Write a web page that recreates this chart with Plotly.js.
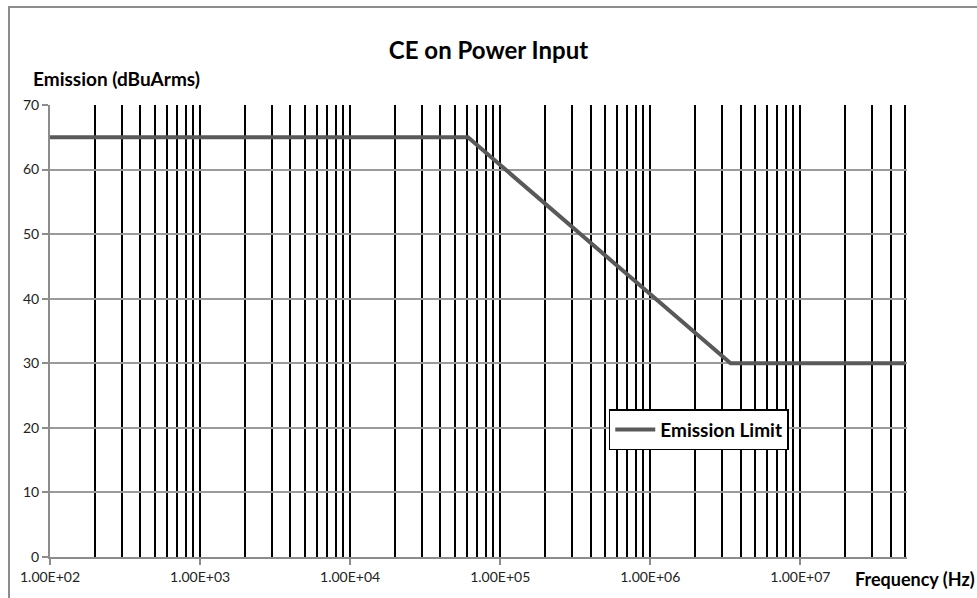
<!DOCTYPE html>
<html>
<head>
<meta charset="utf-8">
<script src="https://cdn.plot.ly/plotly-3.0.1.min.js"></script>
<style>
body { margin: 0; background: #fff; }
#frame { position: absolute; left: 8px; top: 6px; width: 969px; height: 592px;
         border-left: 2px solid #8c8c8c; border-top: 2px solid #8c8c8c; pointer-events: none; }
#chart { position: absolute; left: 0; top: 0; width: 977px; height: 598px; }
</style>
</head>
<body>
<div id="chart"></div>
<div id="frame"></div>
<script>
// breakpoints of the limit line
var freq = [100, 61000, 3430000, 50000000];
var limit = [65, 65, 30, 30];

var decadeVals = [1e2, 1e3, 1e4, 1e5, 1e6, 1e7];
var decadeText = ["1.00E+02", "1.00E+03", "1.00E+04", "1.00E+05", "1.00E+06", "1.00E+07"];
var yVals = [0, 10, 20, 30, 40, 50, 60, 70];

// vertical grid at every 1..9 x decade
var gridVals = [];
for (var d = 2; d <= 7; d++) {
    for (var m = 1; m <= 9; m++) {
        var v = m * Math.pow(10, d);
        if (v > 100 && v <= 5e7) gridVals.push(v);
    }
}

var fontFam = 'Lato, "Open Sans", sans-serif';

var trace = {
    x: freq,
    y: limit,
    mode: 'lines',
    name: '<b>Emission Limit</b>',
    line: { color: '#595959', width: 4 }
};

var layout = {
    width: 977,
    height: 598,
    margin: { l: 50, r: 70, t: 105, b: 41 },
    paper_bgcolor: '#fff',
    plot_bgcolor: '#fff',
    font: { family: fontFam, size: 14, color: '#222' },
    title: {
        text: '<b>CE on Power Input</b>',
        font: { family: fontFam, size: 24, color: '#000' },
        x: 0.5, xanchor: 'center', y: 0.915, yanchor: 'middle'
    },
    showlegend: true,
    legend: {
        x: 0.652, y: 0.327, xanchor: 'left', yanchor: 'top',
        bgcolor: '#fff', bordercolor: '#000', borderwidth: 1.5,
        font: { family: fontFam, size: 19, color: '#000' },
        itemwidth: 40,
        tracegroupgap: 0
    },
    xaxis: {
        type: 'log',
        range: [2, Math.log10(5e7) + 0.012],
        tickvals: decadeVals,
        ticktext: decadeText,
        ticks: 'outside', ticklen: 6, tickcolor: '#8c8c8c', tickwidth: 2,
        showgrid: true, gridcolor: '#000', gridwidth: 2,
        minor: { tickmode: 'array', tickvals: gridVals, showgrid: true, gridcolor: '#000', gridwidth: 2, ticks: '' },
        showline: true, linecolor: '#8c8c8c', linewidth: 2,
        zeroline: false,
        tickfont: { family: fontFam, size: 14, color: '#222' }
    },
    yaxis: {
        range: [0, 70],
        tickvals: yVals,
        ticks: 'outside', ticklen: 6, tickcolor: '#8c8c8c', tickwidth: 2,
        showgrid: true, gridcolor: '#9a9a9a', gridwidth: 2,
        showline: true, linecolor: '#8c8c8c', linewidth: 2,
        zeroline: false,
        tickfont: { family: fontFam, size: 14, color: '#222' }
    },
    annotations: [
        {
            text: '<b>Emission (dBuArms)</b>', xref: 'paper', yref: 'paper',
            x: -0.022, y: 1.058, xanchor: 'left', yanchor: 'middle', showarrow: false,
            font: { family: fontFam, size: 19, color: '#000' }
        },
        {
            text: '<b>Frequency (Hz)</b>', xref: 'paper', yref: 'paper',
            x: 0.937, y: -0.048, xanchor: 'left', yanchor: 'middle', showarrow: false,
            font: { family: fontFam, size: 18, color: '#000' }
        }
    ]
};

Plotly.newPlot('chart', [trace], layout, { displayModeBar: false, staticPlot: true });
</script>
</body>
</html>
